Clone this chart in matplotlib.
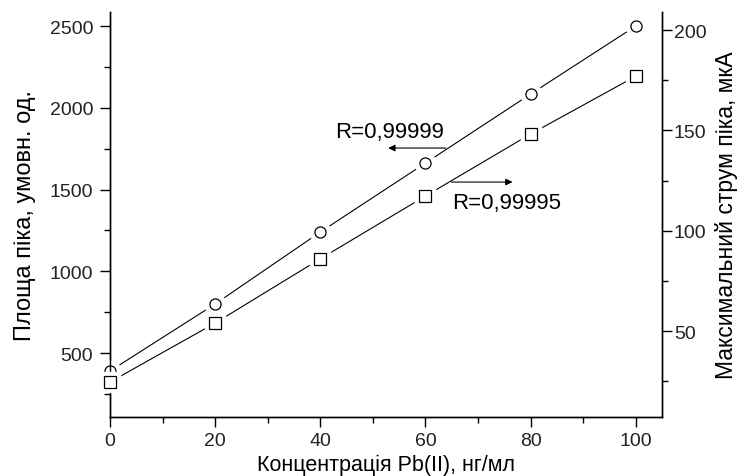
import numpy as np
import matplotlib.pyplot as plt

plt.rcParams['font.family'] = ['Liberation Sans', 'DejaVu Sans']

# concentration, ng/ml
conc = [0, 20, 40, 60, 80, 100]
# peak area, arb. units (left axis)
area = [390, 800, 1240, 1662, 2084, 2500]
# peak current, uA (right axis)
current = [24.6, 54, 86, 117.3, 148.2, 177]

fig = plt.figure(figsize=(7.39, 4.77), dpi=100)
ax = fig.add_axes([0.1488, 0.1237, 0.747, 0.849])
ax2 = ax.twinx()

# line, then a white halo so the line stops short of each marker, then the marker
ax.plot(conc, area, color='black', lw=0.8, zorder=2)
ax.plot(conc, area, ls='none', marker='o', ms=15, mfc='white', mec='white', zorder=3, clip_on=False)
ax.plot(conc, area, ls='none', marker='o', ms=8, mfc='white', mec='black', mew=0.9, zorder=4, clip_on=False)

ax2.plot(conc, current, color='black', lw=0.8, zorder=2)
ax2.plot(conc, current, ls='none', marker='s', ms=15, mfc='white', mec='white', zorder=3, clip_on=False)
ax2.plot(conc, current, ls='none', marker='s', ms=8, mfc='white', mec='black', mew=0.9, zorder=4, clip_on=False)

ax.set_xlim(0, 105)
ax.set_ylim(109, 2586)
ax2.set_ylim(7.2, 209)

ax.set_xticks(np.arange(0, 101, 20))
ax.set_xticks(np.arange(0, 106, 10), minor=True)
ax.set_yticks(np.arange(500, 2501, 500))
ax.set_yticks(np.arange(250, 2586, 250), minor=True)
ax2.set_yticks(np.arange(50, 201, 50))
ax2.set_yticks(np.arange(25, 209, 25), minor=True)

for a in (ax, ax2):
    a.spines['top'].set_visible(False)
    for s in a.spines.values():
        s.set_linewidth(1.0)
    a.tick_params(which='major', direction='out', length=7, width=1.0, labelsize=14, labelcolor='#222222')
    a.tick_params(which='minor', direction='out', length=4, width=1.0)
ax.tick_params(axis='y', which='major', pad=5)
ax2.tick_params(axis='y', which='major', pad=1.5)

ax.set_xlabel('Концентрація Pb(II), нг/мл', fontsize=15.5, labelpad=4)
ax.set_ylabel('Площа піка, умовн. од.', fontsize=17, labelpad=10)
ax2.set_ylabel('Максимальний струм піка, мкА', fontsize=16.5, labelpad=6)

ax.text(42.9, 1858, 'R=0,99999', fontsize=16, ha='left', va='center')
ax.annotate('', xy=(52.4, 1754), xytext=(64.4, 1754),
            arrowprops=dict(arrowstyle='-|>', color='black', lw=0.8, mutation_scale=10))
ax.text(65.1, 1424, 'R=0,99995', fontsize=16, ha='left', va='center')
ax.annotate('', xy=(77.1, 1546), xytext=(64.4, 1546),
            arrowprops=dict(arrowstyle='-|>', color='black', lw=0.8, mutation_scale=10))

plt.savefig('out.png', dpi=100)
